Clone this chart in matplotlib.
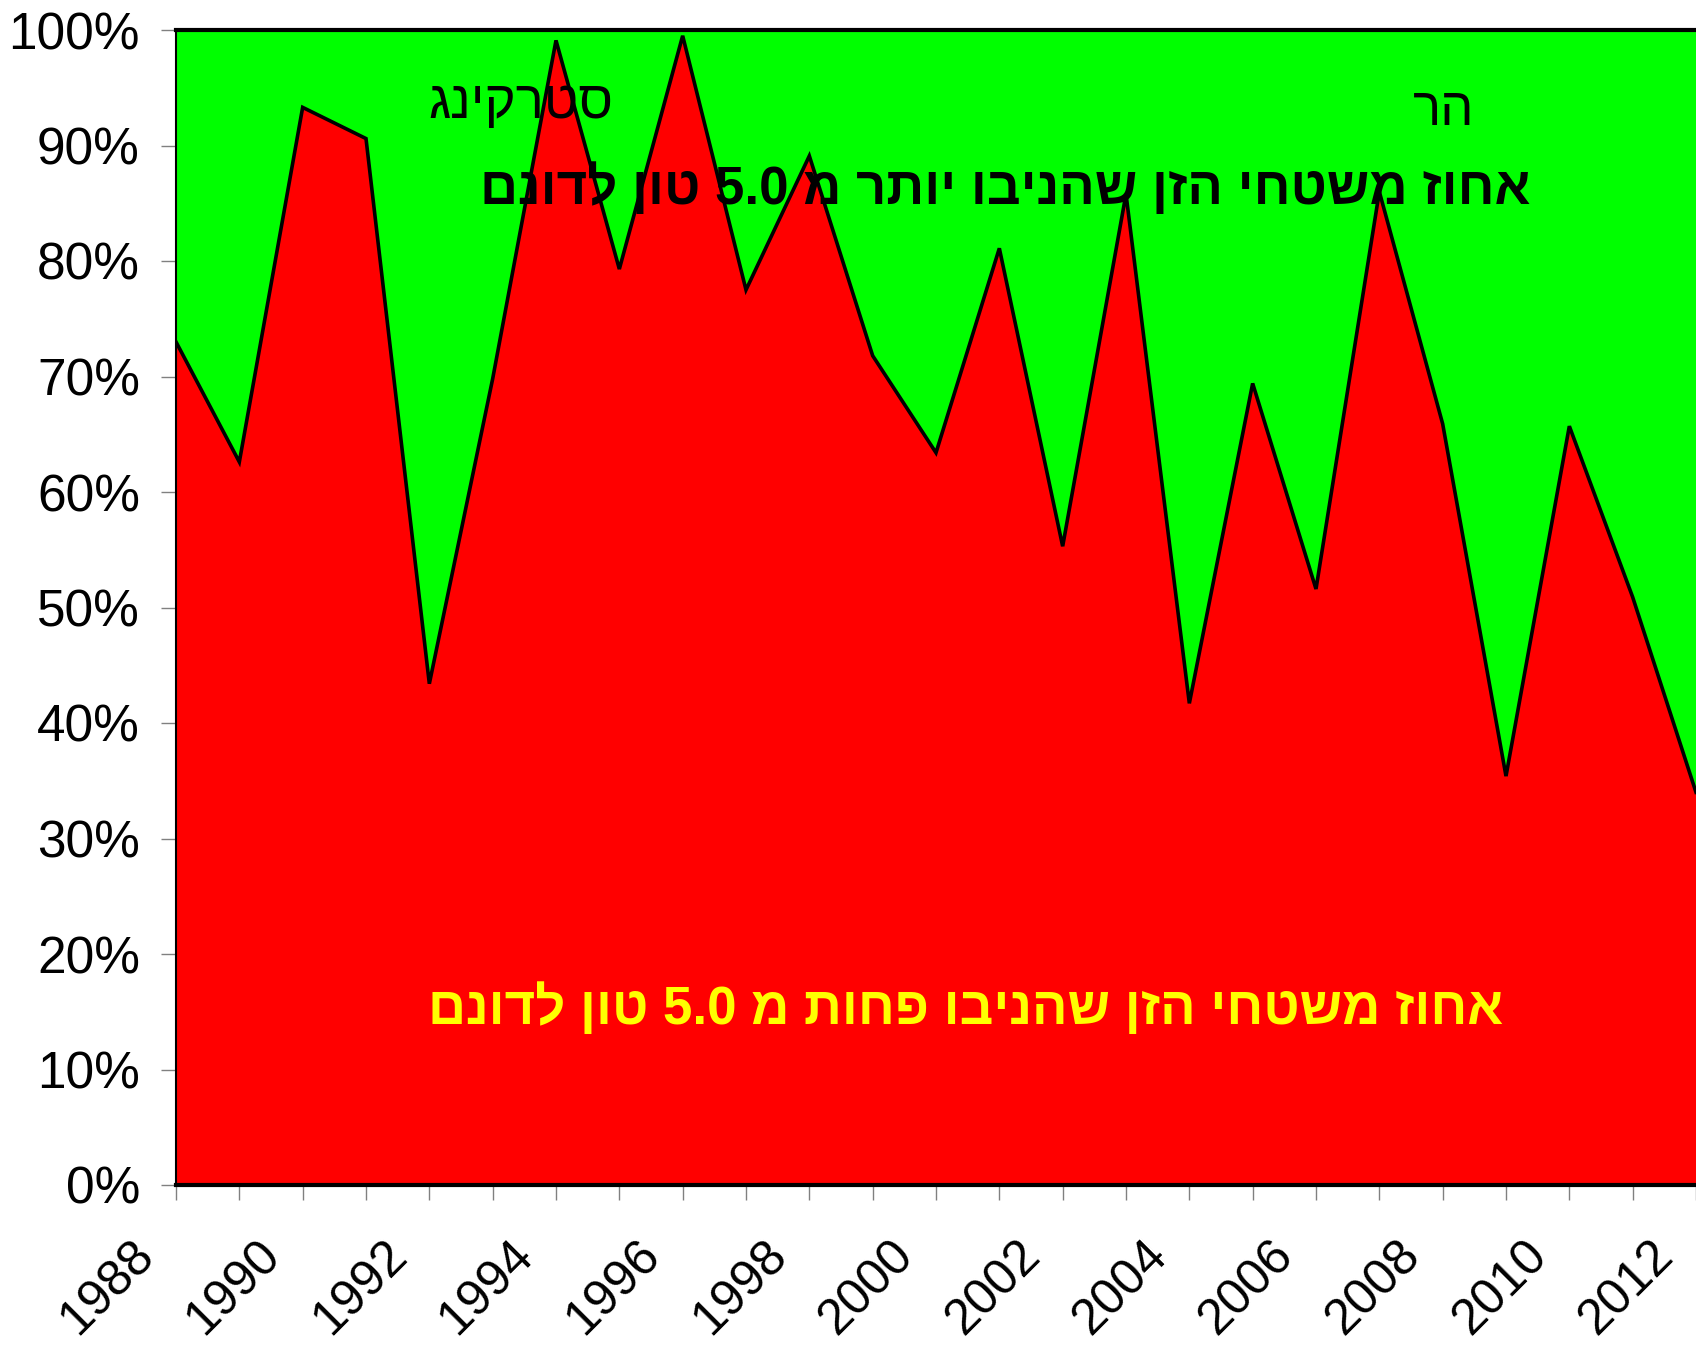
import matplotlib
matplotlib.use("Agg")
import matplotlib.pyplot as plt
import matplotlib.transforms as mtransforms
from matplotlib.ticker import FixedLocator, FuncFormatter

plt.rcParams['font.family'] = ['Liberation Sans', 'DejaVu Sans']

years = list(range(1988, 2013))
share_low = [73.0, 62.6, 93.3, 90.6, 43.4, 69.8, 99.1, 79.3, 99.5, 77.5,
             89.1, 71.8, 63.4, 81.1, 55.3, 85.8, 41.7, 69.4, 51.6, 86.0,
             65.9, 35.4, 65.7, 50.9, 34.0]
y_ticks = [0, 10, 20, 30, 40, 50, 60, 70, 80, 90, 100]
label_years = list(range(1988, 2013, 2))

text_high = "אחוז משטחי הזן שהניבו יותר מ 5.0 טון לדונם"
text_low = "אחוז משטחי הזן שהניבו פחות מ 5.0 טון לדונם"
text_stacking = "סטרקינג"
text_har = "הר"


def visual(s):
    # matplotlib has no bidi support: lay the Hebrew out right-to-left by hand
    return s[::-1].replace("0.5", "5.0")


fig = plt.figure(figsize=(16.96, 13.46), dpi=100)
ax = fig.add_axes([176 / 1696, 161 / 1346, 1520 / 1696, 1155 / 1346])

ax.fill_between(years, 0, share_low, color="#ff0000", lw=0)
ax.fill_between(years, share_low, 100, color="#00ff00", lw=0)
ax.plot(years, share_low, color="black", lw=2.6, solid_joinstyle="miter")

ax.set_xlim(1988, 2012)
ax.set_ylim(0, 100)

ax.set_yticks(y_ticks)
ax.yaxis.set_major_formatter(FuncFormatter(lambda v, p: f"{v:.0f}%"))
ax.xaxis.set_major_locator(FixedLocator(years))
ax.set_xticklabels([str(y) if y in label_years else "" for y in years],
                   rotation=45, ha="right", va="top", rotation_mode="anchor")

ax.tick_params(axis="y", direction="out", length=11, width=1, color="#808080",
               labelsize=37, pad=15)
ax.tick_params(axis="x", direction="out", length=11, width=1, color="#808080",
               labelsize=36, pad=23)

# pull the slanted year labels a bit to the left of their ticks
shift = mtransforms.ScaledTranslation(-0.46, 0, fig.dpi_scale_trans)
for lbl in ax.get_xticklabels():
    lbl.set_transform(lbl.get_transform() + shift)

ax.spines["right"].set_visible(False)
ax.spines["left"].set_linewidth(1.5)
ax.spines["top"].set_linewidth(3)
ax.spines["bottom"].set_linewidth(3)

ax.text(2001.09, 86.3, visual(text_high), fontsize=38, fontweight="bold",
        color="black", ha="center", va="center")
ax.text(2000.47, 15.3, visual(text_low), fontsize=38, fontweight="bold",
        color="#ffff00", ha="center", va="center")
ax.text(1993.45, 93.6, visual(text_stacking), fontsize=38,
        color="black", ha="center", va="center")
ax.text(2008.02, 93.0, visual(text_har), fontsize=38,
        color="black", ha="center", va="center")

fig.savefig("out.png", dpi=100)
